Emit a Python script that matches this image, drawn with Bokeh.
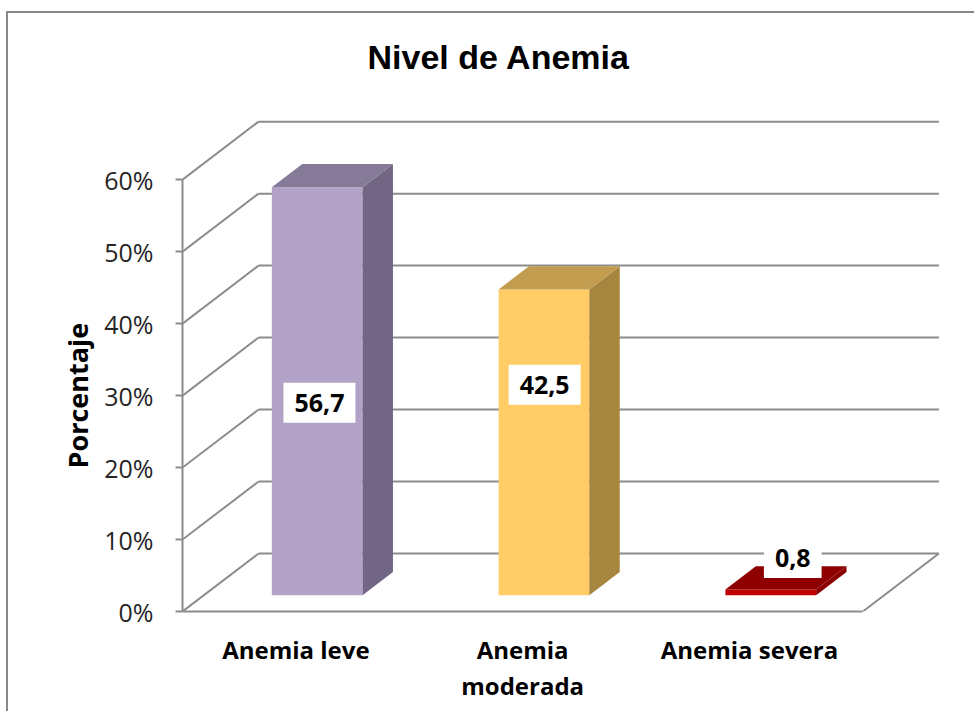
from bokeh.plotting import figure
from bokeh.models import Label, FixedTicker, Range1d, Title
from bokeh.embed import file_html
from bokeh.resources import INLINE

# ---------------- data ----------------
title_text = "Nivel de Anemia"
categories = ["Anemia leve", "Anemia\nmoderada", "Anemia severa"]
values = [56.7, 42.5, 0.8]
y_ticks = [0, 10, 20, 30, 40, 50, 60]
y_tick_labels = ["0%", "10%", "20%", "30%", "40%", "50%", "60%"]
y_label = "Porcentaje"

# ---------------- style ----------------
front_colors = ["#B3A2C7", "#FFCC66", "#C00000"]
top_colors = ["#857A98", "#C29D4F", "#8E0000"]
side_colors = ["#716683", "#A6853F", "#8B0000"]
GRID = "#8C8C8C"
DX = 0.3353     # depth offset (category units)
DY = 8.06       # depth offset (% units)
D0, D1 = 0.28, 0.68   # bar depth extent (fraction of depth)
HALF_W = 0.2
# label anchor offsets (x from bar front centre, y in %)
label_pos = [(0.01, 29.0), (0.003, 31.5), (0.097, 7.45)]

n = len(categories)
x0 = -0.5
x1 = n - 0.5

p = figure(width=968, height=700, x_range=Range1d(x0, 2.86), y_range=Range1d(0, 68.5),
           output_backend="svg", toolbar_location=None,
           min_border_left=174, min_border_right=32, min_border_top=105, min_border_bottom=102)
p.margin = (11, 0, 0, 6)
p.styles = {"border-left": "2px solid #888888", "border-top": "2px solid #888888"}
p.xgrid.visible = False
p.ygrid.visible = False
p.outline_line_color = None
p.background_fill_color = "white"
p.border_fill_color = "white"

# y axis (front)
ya = p.yaxis[0]
ya.ticker = FixedTicker(ticks=y_ticks)
ya.major_label_overrides = {t: l for t, l in zip(y_ticks, y_tick_labels)}
ya.bounds = (y_ticks[0], y_ticks[-1])
ya.axis_line_color = GRID
ya.axis_line_width = 2
ya.major_tick_line_color = GRID
ya.major_tick_line_width = 2
ya.major_tick_out = 7
ya.major_tick_in = 0
ya.minor_tick_line_color = None
ya.major_label_text_font = "Open Sans"
ya.major_label_text_font_size = "25px"
ya.major_label_text_color = "#262626"
ya.major_label_standoff = 22

# y axis title (left-side title, shifted up from the frame bottom)
p.add_layout(Title(text=y_label, align="left", offset=143, standoff=11,
                   text_font="Open Sans", text_font_style="bold", text_font_size="27px",
                   text_color="black"), "left")

# x axis (front floor edge)
xa = p.xaxis[0]
xa.ticker = FixedTicker(ticks=list(range(n)))
xa.major_label_overrides = {i: c for i, c in enumerate(categories)}
xa.bounds = (x0, x1)
xa.axis_line_color = GRID
xa.axis_line_width = 2
xa.major_tick_line_color = None
xa.minor_tick_line_color = None
xa.major_label_text_font = "Open Sans"
xa.major_label_text_font_style = "bold"
xa.major_label_text_font_size = "24px"
xa.major_label_text_color = "black"
xa.major_label_text_line_height = 1.1
xa.major_label_standoff = 15

# chart title (a blank second line lifts it away from the plot area)
p.add_layout(Title(text=title_text + "\n ", align="left", offset=185, standoff=10,
                   vertical_align="bottom",
                   text_font="Liberation Sans", text_font_style="bold",
                   text_font_size="34px", text_color="black"), "above")

# side wall diagonals and back wall gridlines
p.segment(x0=[x0] * len(y_ticks), y0=y_ticks,
          x1=[x0 + DX] * len(y_ticks), y1=[t + DY for t in y_ticks],
          line_color=GRID, line_width=2)
p.segment(x0=[x0 + DX] * len(y_ticks), y0=[t + DY for t in y_ticks],
          x1=[x1 + DX] * len(y_ticks), y1=[t + DY for t in y_ticks],
          line_color=GRID, line_width=2)
# floor right edge
p.segment(x0=[x1], y0=[0], x1=[x1 + DX], y1=[DY], line_color=GRID, line_width=2)

# bars
for i, v in enumerate(values):
    xl, xr = i - HALF_W, i + HALF_W
    p.quad(left=[xl + D0 * DX], right=[xr + D0 * DX], bottom=[D0 * DY], top=[D0 * DY + v],
           fill_color=front_colors[i], line_color=None)
    p.patch(x=[xr + D0 * DX, xr + D1 * DX, xr + D1 * DX, xr + D0 * DX],
            y=[D0 * DY, D1 * DY, D1 * DY + v, D0 * DY + v],
            fill_color=side_colors[i], line_color=None)
    p.patch(x=[xl + D0 * DX, xr + D0 * DX, xr + D1 * DX, xl + D1 * DX],
            y=[D0 * DY + v, D0 * DY + v, D1 * DY + v, D1 * DY + v],
            fill_color=top_colors[i], line_color=None)

# data labels
for i, v in enumerate(values):
    lx, ly = label_pos[i]
    p.add_layout(Label(x=i + D0 * DX + lx, y=ly, text=f"{v:.1f}".replace(".", ","),
                       text_align="center", text_baseline="middle",
                       text_font="Open Sans", text_font_style="bold", text_font_size="25px",
                       text_color="black", background_fill_color="white", padding=11))

open("out.html", "w").write(file_html(p, INLINE))
